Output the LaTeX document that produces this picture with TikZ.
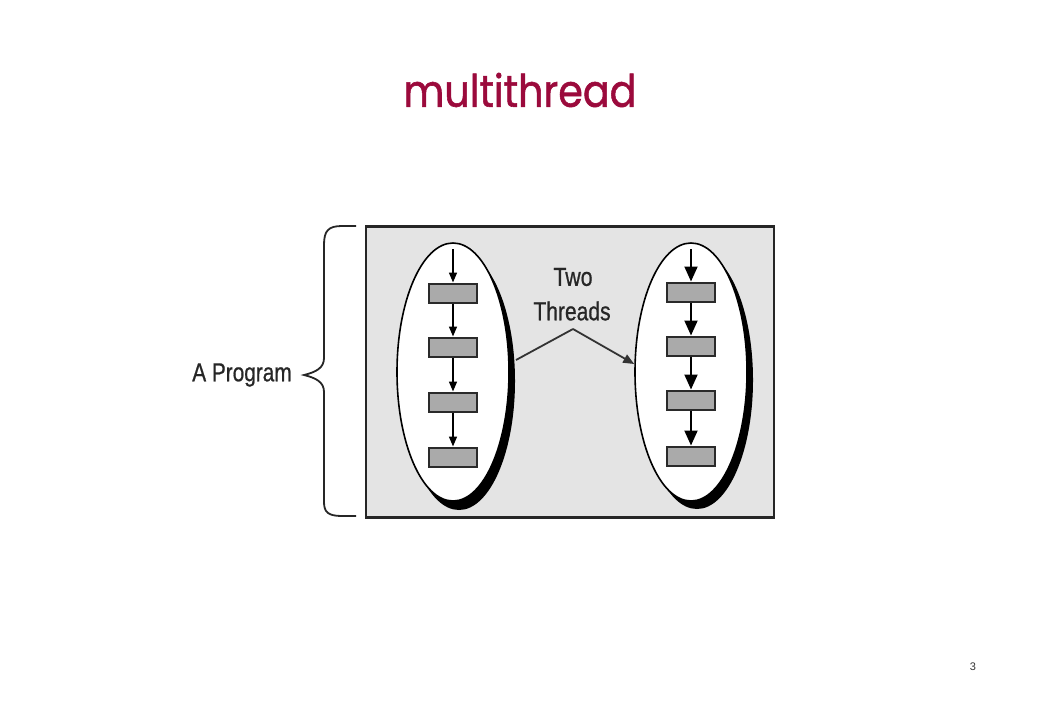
\documentclass[tikz,border=0pt]{standalone}
\usepackage{fontspec}
\setmainfont{Liberation Sans}
\newfontfamily\titlefont[FakeBold=1.3]{Poppins}
\newfontfamily\lblfont[FakeBold=0.8]{Liberation Sans}
\usetikzlibrary{shapes.geometric,arrows.meta}
\definecolor{titlered}{HTML}{9B0A3C}
\definecolor{panelgray}{HTML}{E4E4E4}
\definecolor{stepgray}{HTML}{AAAAAA}
\definecolor{edgegray}{HTML}{2A2A2A}
\tikzset{
  threadell/.style={ellipse, draw=black, line width=1.6pt, fill=white, minimum width=112pt, minimum height=258pt, inner sep=0pt},
  shadowell/.style={ellipse, fill=black, minimum width=112pt, minimum height=258pt, inner sep=0pt},
  stepbox/.style={rectangle, draw=edgegray, line width=2pt, fill=stepgray, minimum width=48pt, minimum height=19pt, inner sep=0pt},
  smallarr/.style={-{Triangle[length=10pt,width=8pt]}, line width=1.6pt},
  bigarr/.style={-{Triangle[length=15pt,width=13pt]}, line width=2pt},
  lbl/.style={font=\lblfont\fontsize{26}{28}\selectfont, inner sep=0pt, text=black!85},
  conn/.style={line width=1.8pt, black!80}
}
\begin{document}
\begin{tikzpicture}[x=1pt,y=-1pt]
\useasboundingbox (0,0) rectangle (1040,720);
% title
\node[inner sep=0pt, text=titlered] (title) at (520,90) {\resizebox{233pt}{34pt}{\titlefont multithread}};
% panel
\node[draw=black!85, line width=2.4pt, fill=panelgray, minimum width=408pt, minimum height=291pt, inner sep=0pt] (panel) at (570,372) {};
% left thread
\node[shadowell] (shL) at (459,381) {};
\node[threadell] (L) at (453,372) {};
\node[stepbox] (l1) at (453,293) {};
\node[stepbox] (l2) at (453,347) {};
\node[stepbox] (l3) at (453,402) {};
\node[stepbox] (l4) at (453,457) {};
\coordinate (lt) at (453,249);
\draw[smallarr] (lt) -- (l1.north);
\draw[smallarr] (l1.south) -- (l2.north);
\draw[smallarr] (l2.south) -- (l3.north);
\draw[smallarr] (l3.south) -- (l4.north);
% right thread
\node[shadowell] (shR) at (697,380) {};
\node[threadell] (R) at (691,372) {};
\node[stepbox] (r1) at (691,292) {};
\node[stepbox] (r2) at (691,346) {};
\node[stepbox] (r3) at (691,400) {};
\node[stepbox] (r4) at (691,456) {};
\coordinate (rt) at (691,249);
\draw[bigarr] (rt) -- (r1.north);
\draw[bigarr] (r1.south) -- (r2.north);
\draw[bigarr] (r2.south) -- (r3.north);
\draw[bigarr] (r3.south) -- (r4.north);
% label two threads
\node[lbl] (two) at (573,277) {\scalebox{0.82}[1]{Two}};
\node[lbl] (thr) at (572,311) {\scalebox{0.81}[1]{Threads}};
\coordinate (apex) at (573,329);
\coordinate (cL) at (516,360);
\draw[conn] (cL) -- (apex);
\draw[conn, -{Triangle[length=11pt,width=9pt]}] (apex) -- (R.west |- 0,364);
% brace
\draw[line width=1.8pt, black!85] (356,226) -- (342,226) .. controls (328,226) and (324,231) .. (324,245) -- (324,358) .. controls (324,368) and (316,372) .. (304,375) .. controls (316,378) and (324,382) .. (324,392) -- (324,502) .. controls (324,512) and (328,516) .. (342,516) -- (356,516);
\node[lbl] (prog) at (242,375) {\scalebox{0.8}[1]{A Program}};
% page number
\node[font=\fontsize{11}{12}\selectfont, inner sep=0pt, text=black!80] (pg) at (973,667) {3};
\end{tikzpicture}
\end{document}
